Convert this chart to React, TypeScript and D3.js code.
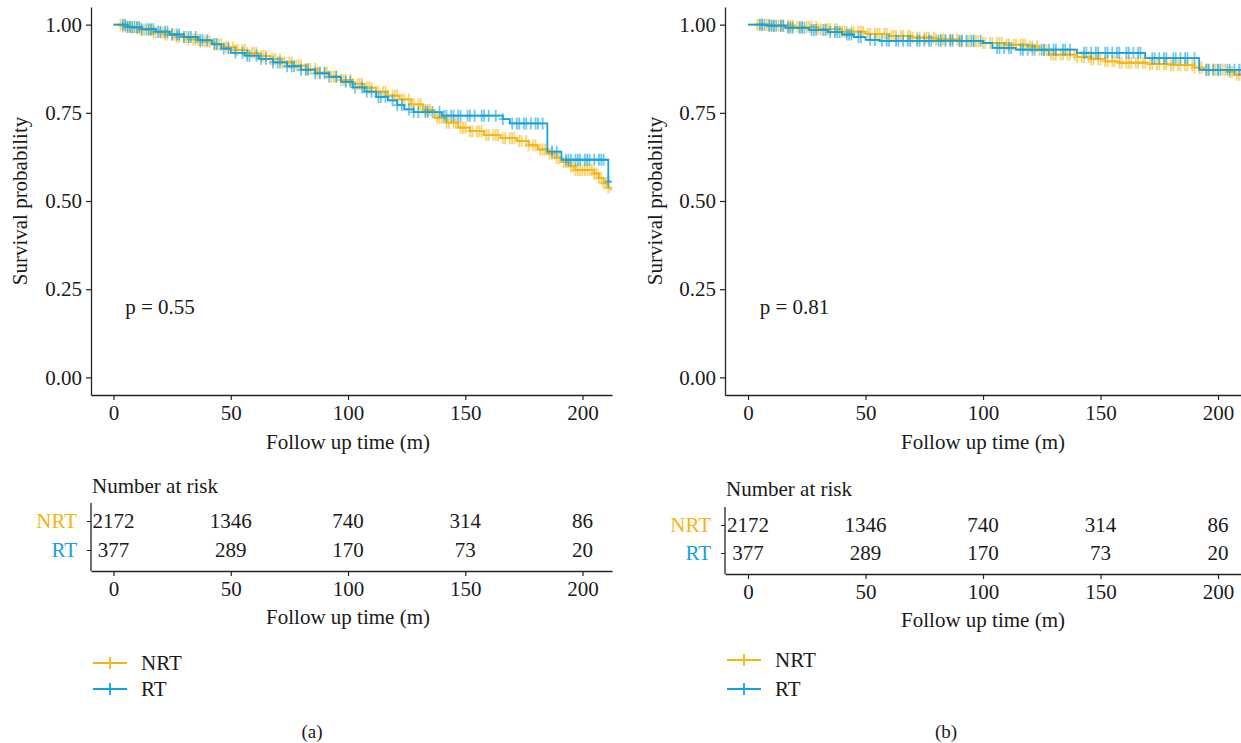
import React, { useEffect, useRef } from "react";
import {
  select,
  scaleLinear,
  scalePoint,
  axisLeft,
  axisBottom,
  line,
  curveStepAfter,
  bisector,
} from "d3";

const groups = ["NRT", "RT"];
const groupColors = ["#F3B512", "#14A2DF"];
const timeTicks = [0, 50, 100, 150, 200];
const survTicks = [0, 0.25, 0.5, 0.75, 1];

// (a) step points [time, survival]
const nrtStepsA = [
  [0, 1.0], [4, 0.995], [8, 0.99], [12, 0.985], [17, 0.978], [22, 0.972],
  [27, 0.965], [32, 0.958], [37, 0.952], [42, 0.944], [47, 0.936], [52, 0.928],
  [57, 0.92], [62, 0.911], [67, 0.902], [72, 0.893], [77, 0.884], [82, 0.874],
  [87, 0.864], [92, 0.853], [97, 0.843], [102, 0.832], [107, 0.821], [112, 0.81],
  [117, 0.799], [122, 0.788], [127, 0.774], [132, 0.758], [137, 0.736], [142, 0.722],
  [147, 0.708], [152, 0.698], [158, 0.687], [165, 0.678], [172, 0.67], [177, 0.658],
  [181, 0.646], [185, 0.634], [188, 0.622], [191, 0.61], [194, 0.598], [197, 0.588],
  [205, 0.578], [207, 0.565], [209, 0.55], [211, 0.538], [212, 0.53],
];
const rtStepsA = [
  [0, 1.0], [6, 0.993], [12, 0.987], [18, 0.98], [24, 0.972], [30, 0.965],
  [36, 0.956], [42, 0.945], [46, 0.932], [50, 0.92], [56, 0.912], [62, 0.903],
  [68, 0.893], [74, 0.882], [80, 0.872], [86, 0.862], [92, 0.852], [97, 0.838],
  [102, 0.822], [107, 0.81], [112, 0.795], [117, 0.785], [121, 0.772], [124, 0.76],
  [128, 0.752], [140, 0.742], [166, 0.732], [169, 0.72], [185, 0.64], [191, 0.617],
  [211, 0.555], [212, 0.555],
];
const nrtCensorA = [
  3, 4, 5, 6, 7, 8, 10, 11, 12, 13, 15, 16, 17, 18, 20, 21, 22, 23, 25, 26, 27, 28,
  30, 31, 32, 34, 35, 36, 37, 39, 40, 41, 43, 44, 45, 46, 48, 49, 51, 52, 53, 55,
  56, 57, 59, 60, 61, 63, 64, 65, 67, 68, 69, 71, 72, 73, 75, 76, 78, 79, 80, 82,
  83, 84, 86, 87, 88, 90, 91, 93, 94, 95, 97, 98, 99, 101, 102, 104, 105, 106, 108,
  109, 110, 112, 113, 115, 116, 117, 119, 120, 121, 123, 124, 126, 127, 128, 130,
  131, 133, 134, 135, 138, 139, 140, 142, 143, 145, 146, 148, 149, 150, 152, 153,
  155, 156, 157, 159, 160, 162, 163, 164, 166, 167, 169, 170, 171, 173, 174, 176,
  177, 179, 180, 182, 183, 184, 186, 187, 189, 190, 192, 193, 195, 196, 197, 198,
  199, 200, 201, 202, 203, 204, 205, 206, 207, 208, 209, 210, 211,
];
const rtCensorA = [
  4, 5, 6, 7, 8, 9, 10, 11, 12, 14, 15, 16, 17, 19, 20, 22, 23, 25, 27, 28, 30, 32,
  33, 35, 37, 38, 40, 43, 44, 47, 49, 52, 55, 57, 58, 61, 63, 65, 68, 70, 71, 74,
  76, 77, 80, 82, 83, 86, 88, 90, 92, 95, 99, 101, 103, 106, 108, 110, 113, 114,
  116, 119, 121, 123, 126, 128, 130, 133, 134, 136, 139, 141, 142, 144, 145, 147,
  148, 151, 152, 154, 157, 158, 160, 163, 166, 170, 172, 173, 175, 176, 178, 180,
  181, 183, 187, 189, 193, 194, 195, 197, 198, 199, 201, 202, 203, 205, 207, 208,
  209, 211,
];
const nrtRiskA = [2172, 1346, 740, 314, 86];
const rtRiskA = [377, 289, 170, 73, 20];

// (b) step points [time, survival]
const nrtStepsB = [
  [0, 1.0], [10, 0.997], [20, 0.993], [30, 0.987], [40, 0.98], [50, 0.974],
  [60, 0.968], [70, 0.963], [80, 0.958], [90, 0.953], [100, 0.948], [110, 0.943],
  [120, 0.938], [124, 0.928], [128, 0.915], [140, 0.908], [146, 0.902], [152, 0.896],
  [158, 0.892], [170, 0.888], [180, 0.885], [190, 0.878], [194, 0.872], [204, 0.866],
  [207, 0.858], [212, 0.856],
];
const rtStepsB = [
  [0, 1.0], [8, 0.997], [16, 0.991], [26, 0.985], [34, 0.979], [40, 0.972],
  [45, 0.965], [50, 0.957], [56, 0.954], [100, 0.948], [104, 0.934], [114, 0.929],
  [140, 0.92], [169, 0.905], [192, 0.872], [212, 0.872],
];
const nrtCensorB = [
  4, 5, 6, 8, 9, 10, 11, 13, 14, 15, 17, 18, 19, 21, 22, 23, 25, 26, 27, 29, 30, 31,
  33, 34, 35, 37, 38, 40, 41, 42, 44, 45, 47, 48, 49, 51, 52, 54, 55, 56, 58, 59,
  61, 62, 63, 65, 66, 68, 69, 70, 72, 73, 75, 76, 77, 79, 80, 82, 83, 84, 86, 87,
  89, 90, 91, 93, 94, 96, 97, 98, 100, 101, 103, 104, 106, 107, 108, 110, 111, 113,
  114, 116, 117, 118, 120, 121, 123, 124, 126, 127, 129, 130, 131, 133, 134, 136,
  137, 139, 140, 142, 143, 145, 146, 147, 149, 150, 152, 153, 155, 156, 158, 159,
  161, 162, 163, 165, 166, 168, 169, 171, 172, 174, 175, 177, 178, 180, 181, 183,
  184, 186, 187, 189, 190, 192, 193, 195, 196, 198, 199, 200, 202, 203, 205, 206,
  208, 209, 210, 211,
];
const rtCensorB = [
  5, 6, 7, 9, 10, 11, 12, 14, 15, 17, 18, 19, 22, 23, 24, 27, 28, 29, 32, 33, 35,
  37, 38, 39, 42, 43, 44, 47, 48, 52, 54, 57, 59, 60, 63, 64, 66, 68, 69, 72, 73,
  75, 77, 78, 81, 82, 84, 86, 87, 90, 91, 93, 95, 96, 99, 106, 107, 109, 111, 112,
  116, 117, 119, 121, 122, 125, 126, 128, 130, 131, 134, 135, 137, 143, 144, 146,
  148, 149, 152, 153, 155, 157, 158, 161, 162, 164, 166, 167, 172, 173, 175, 177,
  178, 181, 182, 184, 186, 187, 190, 195, 196, 198, 200, 201, 204, 205, 207, 209,
  210,
];
const nrtRiskB = [2172, 1346, 740, 314, 86];
const rtRiskB = [377, 289, 170, 73, 20];

const font = "'Liberation Serif', 'DejaVu Serif', serif";
const fontSize = "21px";

type Panel = {
  steps: number[][][];
  censors: number[][];
  risks: number[][];
  pval: string;
  caption: string;
  left: number;
  xDomain: number[];
  pxPerMonth: number;
  yTitleX: number;
  riskTitleY: number;
  rowY: number[];
  riskAxisY: number;
  legendY: number[];
  captionX: number;
};

const panels: Panel[] = [
  {
    steps: [nrtStepsA, rtStepsA],
    censors: [nrtCensorA, rtCensorA],
    risks: [nrtRiskA, rtRiskA],
    pval: "p = 0.55",
    caption: "(a)",
    left: 91,
    xDomain: [-9.6, 212.6],
    pxPerMonth: 2.345,
    yTitleX: 20,
    riskTitleY: 486,
    rowY: [521, 550],
    riskAxisY: 571,
    legendY: [663, 689],
    captionX: 312,
  },
  {
    steps: [nrtStepsB, rtStepsB],
    censors: [nrtCensorB, rtCensorB],
    risks: [nrtRiskB, rtRiskB],
    pval: "p = 0.81",
    caption: "(b)",
    left: 725,
    xDomain: [-9.8, 212.6],
    pxPerMonth: 2.35,
    yTitleX: 655,
    riskTitleY: 489,
    rowY: [525, 553],
    riskAxisY: 574,
    legendY: [660, 689],
    captionX: 946,
  },
];

const survAt = (steps: number[][], t: number) => {
  const i = bisector((d: number[]) => d[0]).right(steps, t) - 1;
  return steps[Math.max(0, i)][1];
};

const styleAxis = (g: any) => {
  g.select(".domain").attr("stroke", "#222").attr("stroke-width", 1.3);
  g.selectAll(".tick line").attr("stroke", "#222").attr("stroke-width", 1.2);
  g.selectAll(".tick text")
    .attr("fill", "#1a1a1a")
    .style("font-family", font)
    .style("font-size", fontSize);
};

const App = () => {
  const svgRef = useRef(null);

  useEffect(() => {
    const svg = select(svgRef.current);
    svg.selectAll("*").remove();

    panels.forEach((p) => {
      const width = (p.xDomain[1] - p.xDomain[0]) * p.pxPerMonth;
      const x = scaleLinear()
        .domain(p.xDomain)
        .range([p.left, p.left + width]);
      const y = scaleLinear().domain([-0.05, 1.05]).range([395, 7]);

      // survival plot axes
      svg
        .append("g")
        .attr("transform", `translate(${p.left},0)`)
        .call(
          axisLeft(y)
            .tickValues(survTicks)
            .tickFormat((d: any) => d.toFixed(2))
            .tickSize(5)
            .tickSizeOuter(0)
            .tickPadding(4),
        )
        .call(styleAxis);

      svg
        .append("g")
        .attr("transform", `translate(0,395)`)
        .call(
          axisBottom(x)
            .tickValues(timeTicks)
            .tickSize(5)
            .tickSizeOuter(0)
            .tickPadding(5),
        )
        .call(styleAxis);

      svg
        .append("text")
        .attr("transform", `translate(${p.yTitleX},201) rotate(-90)`)
        .attr("text-anchor", "middle")
        .attr("dominant-baseline", "central")
        .style("font-family", font)
        .style("font-size", fontSize)
        .attr("fill", "#1a1a1a")
        .text("Survival probability");

      svg
        .append("text")
        .attr("x", x(100))
        .attr("y", 449)
        .attr("text-anchor", "middle")
        .style("font-family", font)
        .style("font-size", fontSize)
        .attr("fill", "#1a1a1a")
        .text("Follow up time (m)");

      svg
        .append("text")
        .attr("x", x(5))
        .attr("y", y(0.2))
        .attr("dominant-baseline", "central")
        .style("font-family", font)
        .style("font-size", fontSize)
        .attr("fill", "#1a1a1a")
        .text(p.pval);

      const stepLine = line()
        .x((d: any) => x(d[0]))
        .y((d: any) => y(d[1]))
        .curve(curveStepAfter);

      groups.forEach((_, gi) => {
        const color = groupColors[gi];
        const steps = p.steps[gi];
        svg
          .append("g")
          .selectAll("path")
          .data(p.censors[gi])
          .enter()
          .append("path")
          .attr("d", (t: number) => {
            const cx = x(t);
            const cy = y(survAt(steps, t));
            return `M${cx - 4},${cy}H${cx + 4}M${cx},${cy - 6}V${cy + 6}`;
          })
          .attr("stroke", color)
          .attr("stroke-opacity", 0.6)
          .attr("stroke-width", 1.8)
          .attr("fill", "none");

        svg
          .append("path")
          .datum(steps)
          .attr("d", stepLine as any)
          .attr("fill", "none")
          .attr("stroke", color)
          .attr("stroke-width", 1.8);
      });

      // risk table
      svg
        .append("text")
        .attr("x", p.left + 1)
        .attr("y", p.riskTitleY)
        .attr("dominant-baseline", "central")
        .style("font-family", font)
        .style("font-size", fontSize)
        .attr("fill", "#1a1a1a")
        .text("Number at risk");

      const rowScale = scalePoint()
        .domain(groups)
        .range(p.rowY);

      const rowAxis = svg
        .append("g")
        .attr("transform", `translate(${p.left},0)`)
        .call(axisLeft(rowScale).tickSize(4).tickSizeOuter(0).tickPadding(10));
      rowAxis
        .select(".domain")
        .attr("d", `M0,${p.rowY[0] - 18}V${p.riskAxisY}`)
        .attr("stroke", "#222")
        .attr("stroke-width", 1.3);
      rowAxis.selectAll(".tick line").attr("stroke", "#222");
      rowAxis
        .selectAll(".tick text")
        .style("font-family", font)
        .style("font-size", fontSize)
        .attr("fill", (_: any, i: number) => groupColors[i]);

      groups.forEach((gName, gi) => {
        svg
          .append("g")
          .selectAll("text")
          .data(p.risks[gi])
          .enter()
          .append("text")
          .attr("x", (_: any, i: number) => x(timeTicks[i]))
          .attr("y", rowScale(gName))
          .attr("text-anchor", "middle")
          .attr("dominant-baseline", "central")
          .style("font-family", font)
          .style("font-size", fontSize)
          .attr("fill", "#1a1a1a")
          .text((d: number) => d);
      });

      svg
        .append("g")
        .attr("transform", `translate(0,${p.riskAxisY})`)
        .call(
          axisBottom(x)
            .tickValues(timeTicks)
            .tickSize(5)
            .tickSizeOuter(0)
            .tickPadding(5),
        )
        .call(styleAxis);

      svg
        .append("text")
        .attr("x", x(100))
        .attr("y", p.riskAxisY + 53)
        .attr("text-anchor", "middle")
        .style("font-family", font)
        .style("font-size", fontSize)
        .attr("fill", "#1a1a1a")
        .text("Follow up time (m)");

      // legend
      groups.forEach((gName, gi) => {
        const ly = p.legendY[gi];
        const lx = p.left + 2;
        svg
          .append("path")
          .attr("d", `M${lx},${ly}H${lx + 34}M${lx + 17},${ly - 6}V${ly + 6}`)
          .attr("stroke", groupColors[gi])
          .attr("stroke-width", 1.8)
          .attr("fill", "none");
        svg
          .append("text")
          .attr("x", lx + 48)
          .attr("y", ly)
          .attr("dominant-baseline", "central")
          .style("font-family", font)
          .style("font-size", fontSize)
          .attr("fill", "#1a1a1a")
          .text(gName);
      });

      svg
        .append("text")
        .attr("x", p.captionX)
        .attr("y", 731)
        .attr("text-anchor", "middle")
        .attr("dominant-baseline", "central")
        .style("font-family", font)
        .style("font-size", "19px")
        .attr("fill", "#1a1a1a")
        .text(p.caption);
    });
  }, []);

  return (
    <svg
      ref={svgRef}
      width={1241}
      height={743}
      style={{ position: "absolute", left: 0, top: 0, background: "#fff" }}
    />
  );
};

export default App;
